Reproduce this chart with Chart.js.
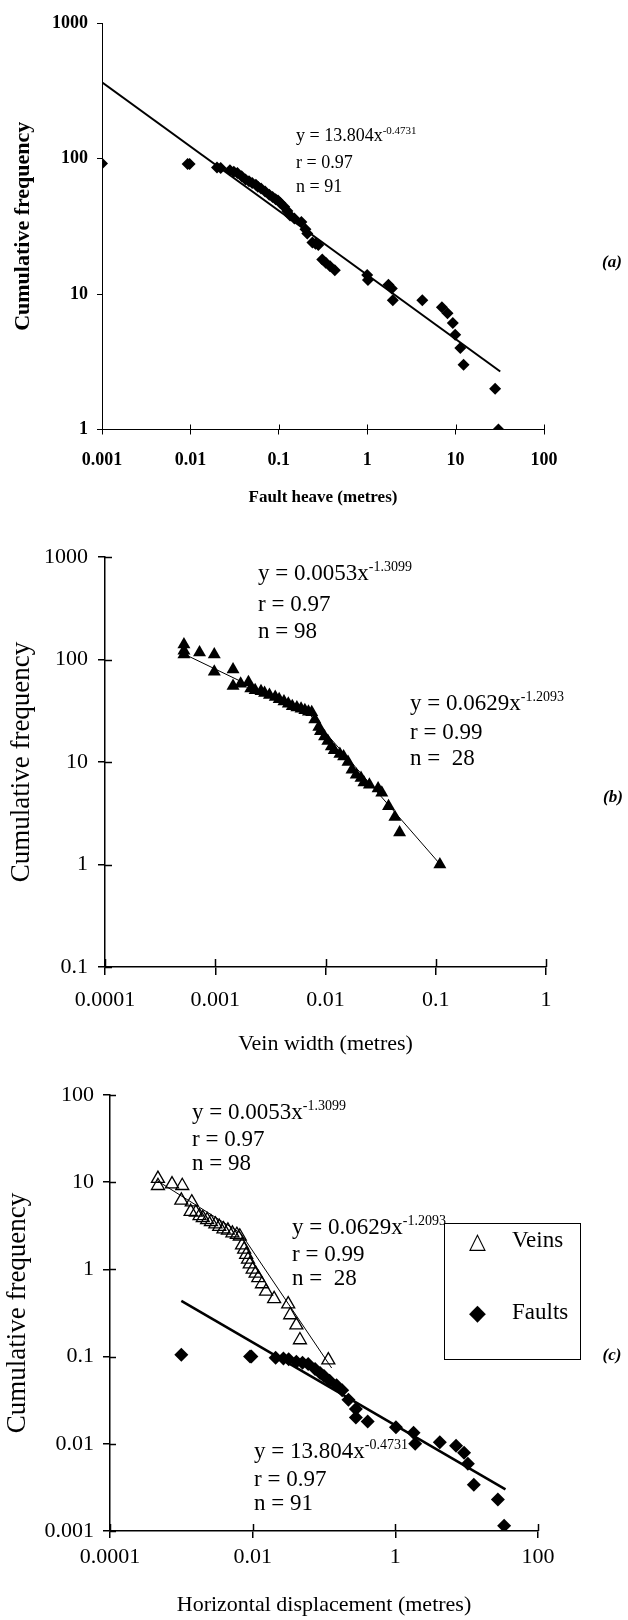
<!DOCTYPE html>
<html>
<head>
<meta charset="utf-8">
<script src="https://cdn.jsdelivr.net/npm/chart.js@4"></script>
<style>
  body { margin: 0; background: #fff; }
  #page { position: relative; width: 628px; height: 1620px; overflow: hidden; font-family: 'Liberation Serif', serif; color: #000; }
  canvas { position: absolute; left: 0; }
  .note { position: absolute; white-space: nowrap; }
  .note sup { vertical-align: 0; position: relative; }
  .tag { position: absolute; transform: translate(-50%, -50%); font-weight: bold; font-style: italic; font-size: 17px; }
</style>
</head>
<body>
<div id="page">
  <canvas id="heave-chart" width="628" height="520" style="top:0"></canvas>
  <canvas id="vein-chart" width="628" height="550" style="top:520px"></canvas>
  <canvas id="disp-chart" width="628" height="550" style="top:1070px"></canvas>

  <div class="note" style="left:296px;top:123px;font-size:18px;line-height:24.5px">
    y = 13.804x<sup style="font-size:11px;top:-7px">-0.4731</sup><br>r = 0.97<br>n = 91
  </div>
  <div class="tag" style="left:612px;top:262px">(a)</div>

  <div class="note" style="left:258px;top:559px;font-size:23px;line-height:27.5px">
    y = 0.0053x<sup style="font-size:14px;top:-9px">-1.3099</sup><br>r = 0.97<br>n = 98
  </div>
  <div class="note" style="left:410px;top:690px;font-size:23px;line-height:26px">
    y = 0.0629x<sup style="font-size:14px;top:-9px">-1.2093</sup><br>r = 0.99<br>n =&nbsp; 28
  </div>
  <div class="tag" style="left:613px;top:797px">(b)</div>

  <div class="note" style="left:192px;top:1100px;font-size:23px;line-height:24px">
    y = 0.0053x<sup style="font-size:14px;top:-9px">-1.3099</sup><br>r = 0.97<br>n = 98
  </div>
  <div class="note" style="left:292px;top:1215px;font-size:23px;line-height:24px">
    y = 0.0629x<sup style="font-size:14px;top:-9px">-1.2093</sup><br>r = 0.99<br>n =&nbsp; 28
  </div>
  <div class="note" style="left:254px;top:1439px;font-size:23px;line-height:24.5px">
    y = 13.804x<sup style="font-size:14px;top:-9px">-0.4731</sup><br>r = 0.97<br>n = 91
  </div>
  <div style="position:absolute;left:444px;top:1223px;width:135px;height:135px;border:1.5px solid #000;font-size:23px">
    <div class="note" style="left:24px;top:4px;font-size:22px;font-family:'DejaVu Sans'">△</div>
    <div class="note" style="left:67px;top:3px">Veins</div>
    <div class="note" style="left:24px;top:76px;font-size:22px;font-family:'DejaVu Sans'">◆</div>
    <div class="note" style="left:67px;top:75px">Faults</div>
  </div>
  <div class="tag" style="left:612px;top:1355px">(c)</div>
</div>

<script>
// (a) fault heave vs cumulative frequency
const heaveX = [0.001, 0.0093, 0.0098, 0.02, 0.022, 0.028, 0.031, 0.034, 0.038, 0.042, 0.046, 0.05,
  0.055, 0.058, 0.063, 0.07, 0.078, 0.085, 0.092, 0.098, 0.104, 0.115, 0.125, 0.134, 0.15, 0.18,
  0.2, 0.21, 0.24, 0.26, 0.28, 0.31, 0.34, 0.38, 0.43, 1.0, 1.02, 1.74, 1.9, 1.95, 4.2, 7.0, 8.1,
  9.3, 9.9, 11.3, 12.3, 28, 30.5];
const heaveN = [92, 91, 91, 86, 85, 82, 80, 78, 74, 70, 68, 66,
  64, 62, 60, 57, 54, 52, 50, 49, 47, 44, 41, 38, 36, 34,
  30, 28, 24, 23.5, 23, 18, 17, 16, 15, 13.8, 12.7, 11.7, 11, 9, 9, 8, 7.2,
  6.1, 5, 4, 3, 2, 1];
const heaveFitX = [0.001, 32];
const heaveFitN = [365, 2.68];

// (b) vein width vs cumulative frequency
const veinX = [0.00052, 0.00052, 0.00052, 0.00072, 0.00098, 0.00098, 0.00145, 0.00145, 0.0017, 0.002,
  0.0021, 0.0023, 0.0026, 0.0028, 0.0031, 0.0035, 0.0038, 0.0042, 0.0046, 0.005, 0.0055, 0.006,
  0.0065, 0.007, 0.0075, 0.008, 0.0087, 0.009, 0.0098, 0.0105, 0.0113, 0.012, 0.0135, 0.0146,
  0.016, 0.0174, 0.019, 0.021, 0.0223, 0.025, 0.03, 0.0324, 0.0373, 0.0426, 0.047, 0.109];
const veinN = [140, 122, 112, 117, 112, 76, 80, 55, 58, 60,
  52, 50, 49, 47, 45, 43, 41, 39, 37, 35, 34, 33,
  32, 31, 30.5, 26, 22, 20, 17.7, 16, 14.2, 13, 12, 11.3,
  10, 8.4, 7.5, 7, 6.3, 6, 5.5, 5, 3.7, 2.9, 2.05, 1];
const veinFit1X = [0.00048, 0.0072];
const veinFit1N = [118, 29];
const veinFit2X = [0.0072, 0.11];
const veinFit2N = [29, 1];

// (c) horizontal displacement, veins and faults together
const dispVeinX = [0.00047, 0.00047, 0.00074, 0.00103, 0.001, 0.0014, 0.00135, 0.0016, 0.0018, 0.002,
  0.0023, 0.0026, 0.003, 0.0034, 0.0039, 0.0045, 0.0052, 0.006, 0.0066, 0.0071, 0.0076, 0.0081,
  0.0086, 0.0091, 0.01, 0.011, 0.012, 0.0135, 0.0154, 0.02, 0.0315, 0.0336, 0.041, 0.046, 0.115];
const dispVeinN = [11, 9.1, 9.5, 9.1, 6.2, 5.9, 4.6, 4.5, 4.1, 3.9,
  3.7, 3.5, 3.3, 3.1, 2.9, 2.8, 2.6, 2.5, 2.4, 1.9, 1.7, 1.48,
  1.3, 1.15, 1.0, 0.9, 0.8, 0.68, 0.56, 0.46, 0.4, 0.3, 0.23, 0.155, 0.091];
const dispFaultX = [0.001, 0.0092, 0.0096, 0.021, 0.027, 0.032, 0.041, 0.05, 0.06, 0.075, 0.088, 0.1,
  0.12, 0.15, 0.18, 0.22, 0.28, 0.28, 0.41, 1.02, 1.8, 1.9, 4.2, 7.1, 9.2, 10.4, 12.6, 27.4, 33.5];
const dispFaultN = [0.105, 0.1, 0.1, 0.097, 0.095, 0.093, 0.087, 0.085, 0.082, 0.072, 0.065, 0.06,
  0.053, 0.047, 0.041, 0.032, 0.025, 0.02, 0.018, 0.0155, 0.0134, 0.01, 0.0104, 0.0095, 0.0079,
  0.0059, 0.0034, 0.0023, 0.00115];
const dispVeinFit1X = [0.00045, 0.0068];
const dispVeinFit1N = [10.5, 2.6];
const dispVeinFit2X = [0.0068, 0.128];
const dispVeinFit2N = [2.6, 0.074];
const dispFaultFitX = [0.001, 35];
const dispFaultFitN = [0.435, 0.003];

const ticksXA = [0.001, 0.01, 0.1, 1, 10, 100];
const ticksYA = [1, 10, 100, 1000];
const ticksXB = [0.0001, 0.001, 0.01, 0.1, 1];
const ticksYB = [0.1, 1, 10, 100, 1000];
const ticksXC = [0.0001, 0.01, 1, 100];
const ticksYC = [0.001, 0.01, 0.1, 1, 10, 100];

const pts = (xs, ys) => xs.map((x, i) => ({ x: x, y: ys[i] }));

// draws the part of each tick mark that sits inside the plot
const crossTicks = {
  id: 'crossTicks',
  afterDraw(chart, args, opts) {
    const ctx = chart.ctx;
    const xs = chart.scales.x;
    const ys = chart.scales.y;
    ctx.save();
    ctx.strokeStyle = '#000';
    ctx.lineWidth = opts.width || 1;
    if (opts.x) {
      xs.ticks.forEach((t) => {
        const px = Math.round(xs.getPixelForValue(t.value)) + 0.5;
        ctx.beginPath();
        ctx.moveTo(px, xs.top);
        ctx.lineTo(px, xs.top - opts.x);
        ctx.stroke();
      });
    }
    if (opts.y) {
      ys.ticks.forEach((t) => {
        const py = Math.round(ys.getPixelForValue(t.value)) + 0.5;
        ctx.beginPath();
        ctx.moveTo(ys.right, py);
        ctx.lineTo(ys.right + opts.y, py);
        ctx.stroke();
      });
    }
    ctx.restore();
  },
};

function logAxis(o) {
  return {
    type: 'logarithmic',
    min: o.ticks[0],
    max: o.ticks[o.ticks.length - 1],
    afterBuildTicks: (s) => { s.ticks = o.ticks.map((v) => ({ value: v, major: true })); },
    afterFit: (s) => { if (o.width) s.width = o.width; if (o.height) s.height = o.height; },
    grid: { drawOnChartArea: false, drawTicks: true, tickLength: o.tickLength, tickColor: '#000', lineWidth: o.lineWidth },
    border: { display: true, color: '#000', width: o.lineWidth },
    ticks: {
      color: '#000',
      padding: o.tickPad,
      maxRotation: 0,
      autoSkip: false,
      font: { family: 'Liberation Serif', size: o.fontSize, weight: o.weight },
      callback: (v, i) => String(o.ticks[i]),
    },
    title: {
      display: true,
      text: o.title,
      color: '#000',
      padding: o.titlePad,
      font: { family: 'Liberation Serif', size: o.titleSize, weight: o.weight },
    },
  };
}

const baseOptions = (pad, scales, cross) => ({
  responsive: false,
  animation: false,
  layout: { padding: pad },
  plugins: { legend: { display: false }, tooltip: { enabled: false }, crossTicks: cross },
  scales: scales,
});

(function () {
  new Chart(document.getElementById('heave-chart'), {
    type: 'scatter',
    plugins: [crossTicks],
    data: {
      datasets: [
        { data: pts(heaveFitX, heaveFitN), showLine: true, borderColor: '#000', borderWidth: 2, pointRadius: 0 },
        { data: pts(heaveX, heaveN), pointStyle: 'rectRot', pointRadius: 6, backgroundColor: '#000', borderColor: '#000', borderWidth: 0 },
      ],
    },
    options: baseOptions({ top: 23, right: 84, left: 0, bottom: 0 }, {
      x: logAxis({ ticks: ticksXA, height: 90.5, tickLength: 5, tickPad: 15, fontSize: 18, weight: 'bold',
        lineWidth: 1, title: 'Fault heave (metres)', titleSize: 17, titlePad: { top: 0, bottom: 12 } }),
      y: logAxis({ ticks: ticksYA, width: 102, tickLength: 5, tickPad: 9, fontSize: 18, weight: 'bold',
        lineWidth: 1, title: 'Cumulative frequency', titleSize: 22, titlePad: { top: 10, bottom: 0 } }),
    }, { x: 5, y: 0, width: 1 }),
  });
})();

(function () {
  new Chart(document.getElementById('vein-chart'), {
    type: 'scatter',
    plugins: [crossTicks],
    data: {
      datasets: [
        { data: pts(veinFit1X, veinFit1N), showLine: true, borderColor: '#000', borderWidth: 1, pointRadius: 0 },
        { data: pts(veinFit2X, veinFit2N), showLine: true, borderColor: '#000', borderWidth: 1, pointRadius: 0 },
        { data: pts(veinX, veinN), pointStyle: 'triangle', pointRadius: 7.5, backgroundColor: '#000', borderColor: '#000', borderWidth: 0 },
      ],
    },
    options: baseOptions({ top: 37, right: 82, left: 0, bottom: 0 }, {
      x: logAxis({ ticks: ticksXB, height: 103, tickLength: 8, tickPad: 12, fontSize: 22, weight: 'normal',
        lineWidth: 1.5, title: 'Vein width (metres)', titleSize: 22, titlePad: { top: 0, bottom: 13 } }),
      y: logAxis({ ticks: ticksYB, width: 105, tickLength: 7, tickPad: 10, fontSize: 22, weight: 'normal',
        lineWidth: 1.5, title: 'Cumulative frequency', titleSize: 27, titlePad: { top: 6, bottom: 0 } }),
    }, { x: 8, y: 7, width: 1.5 }),
  });
})();

(function () {
  new Chart(document.getElementById('disp-chart'), {
    type: 'scatter',
    plugins: [crossTicks],
    data: {
      datasets: [
        { data: pts(dispVeinFit1X, dispVeinFit1N), showLine: true, borderColor: '#000', borderWidth: 1, pointRadius: 0 },
        { data: pts(dispVeinFit2X, dispVeinFit2N), showLine: true, borderColor: '#000', borderWidth: 1, pointRadius: 0 },
        { data: pts(dispFaultFitX, dispFaultFitN), showLine: true, borderColor: '#000', borderWidth: 2.5, pointRadius: 0 },
        { data: pts(dispVeinX, dispVeinN), pointStyle: 'triangle', pointRadius: 7.5, backgroundColor: 'rgba(0,0,0,0)', borderColor: '#000', borderWidth: 1.3 },
        { data: pts(dispFaultX, dispFaultN), pointStyle: 'rectRot', pointRadius: 7, backgroundColor: '#000', borderColor: '#000', borderWidth: 0 },
      ],
    },
    options: baseOptions({ top: 25, right: 90, left: 0, bottom: 0 }, {
      x: logAxis({ ticks: ticksXC, height: 89, tickLength: 7, tickPad: 6, fontSize: 22, weight: 'normal',
        lineWidth: 1.5, title: 'Horizontal displacement (metres)', titleSize: 22, titlePad: { top: 0, bottom: 2 } }),
      y: logAxis({ ticks: ticksYC, width: 110, tickLength: 7, tickPad: 9, fontSize: 22, weight: 'normal',
        lineWidth: 1.5, title: 'Cumulative frequency', titleSize: 27, titlePad: { top: 2, bottom: 0 } }),
    }, { x: 7, y: 6, width: 1.5 }),
  });
})();
</script>
</body>
</html>
